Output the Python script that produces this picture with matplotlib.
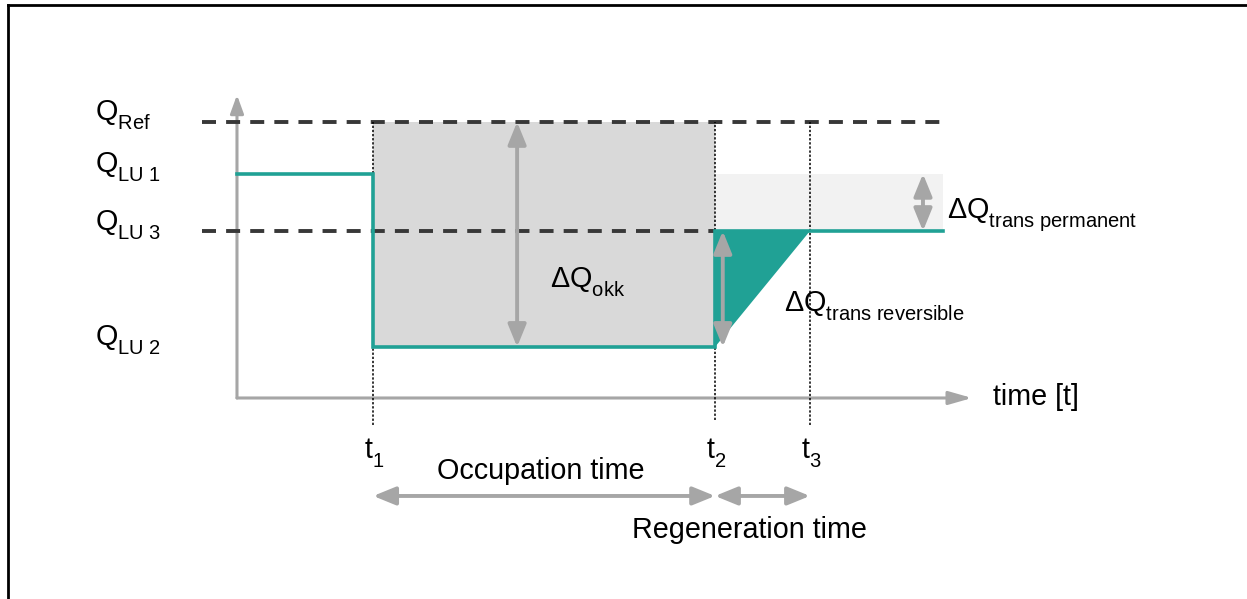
import matplotlib
matplotlib.use("Agg")
import matplotlib.pyplot as plt
try:
    import matplotlib._mathtext as _mt
    _mt.FontConstantsBase.sub1 = 0.6
    _mt.FontConstantsBase.sub2 = 0.75
except Exception:
    pass

plt.rcParams['font.family'] = ['Liberation Sans', 'DejaVu Sans']
plt.rcParams['mathtext.fontset'] = 'custom'
plt.rcParams['mathtext.rm'] = 'Liberation Sans'
plt.rcParams['mathtext.it'] = 'Liberation Sans'

# ---- data (conceptual units) ----
time_points = [3.0, 10.53, 12.62]          # t1, t2, t3
time_labels = [r'$\mathregular{t_1}$', r'$\mathregular{t_2}$', r'$\mathregular{t_3}$']
q_levels = {'Ref': 10.0, 'LU1': 8.12, 'LU3': 6.05, 'LU2': 1.85}
q_labels = [r'$\mathregular{Q_{Ref}}$', r'$\mathregular{Q_{LU\ 1}}$',
            r'$\mathregular{Q_{LU\ 3}}$', r'$\mathregular{Q_{LU\ 2}}$']
q_order = ['Ref', 'LU1', 'LU3', 'LU2']
t_end = 15.55
period_labels = ['Occupation time', 'Regeneration time']

TEAL = '#20a195'
GRAY = '#a6a6a6'
DARK = '#383838'

t1, t2, t3 = time_points
qref, qlu1, qlu3, qlu2 = (q_levels[k] for k in q_order)

fig = plt.figure(figsize=(12.47, 5.99), dpi=100)
ax = fig.add_axes([0, 0, 1, 1])
ax.set_xlim(-5.22, 22.247)
ax.set_ylim(-7.283, 14.42)
ax.axis('off')

# frame
ax.plot([8 / 1247, 8 / 1247], [0, 1 - 5 / 599], color='black', lw=2, transform=ax.transAxes, clip_on=False)
ax.plot([8 / 1247, 1], [1 - 5 / 599, 1 - 5 / 599], color='black', lw=2, transform=ax.transAxes, clip_on=False)

# shaded areas
ax.fill_between([t1, t2], qlu2, qref, color='#d9d9d9', lw=0, zorder=1)
ax.fill_between([t2, t_end], qlu3, qlu1, color='#f2f2f2', lw=0, zorder=1)
ax.fill([t2, t3, t2], [qlu3, qlu3, qlu2], color=TEAL, lw=0, zorder=2)

# axes arrows
ax.annotate('', xy=(0, 10.98), xytext=(0, 0),
            arrowprops=dict(arrowstyle='-|>,head_length=1.1,head_width=0.4', mutation_scale=10,
                            color=GRAY, lw=2.2, shrinkA=0, shrinkB=0), zorder=3)
ax.annotate('', xy=(16.19, 0), xytext=(0, 0),
            arrowprops=dict(arrowstyle='-|>,head_length=1.4,head_width=0.4', mutation_scale=10,
                            color=GRAY, lw=2.2, shrinkA=0, shrinkB=0), zorder=3)

# dashed reference lines
ax.plot([-0.77, 15.59], [qref, qref], color=DARK, lw=2.8, dashes=(3.6, 2.6), zorder=4)
ax.plot([-0.77, t2], [qlu3, qlu3], color=DARK, lw=2.8, dashes=(3.6, 2.6), zorder=4)

# dotted time markers
for t, yb in zip(time_points, [-0.98, -0.80, -0.98]):
    ax.plot([t, t], [yb, qref], color='black', lw=1.1, ls=(0, (1.5, 1.2)), zorder=5)

# teal land-use quality line
ax.plot([0, t1, t1, t2, t2, t_end], [qlu1, qlu1, qlu2, qlu2, qlu3, qlu3],
        color=TEAL, lw=2.6, solid_joinstyle='miter', zorder=6)

# double arrows
dbl = dict(arrowstyle='<|-|>,head_length=1.35,head_width=0.55', mutation_scale=10,
           color=GRAY, lw=2.8, shrinkA=0, shrinkB=0)
ax.annotate('', xy=(6.17, qref), xytext=(6.17, qlu2), arrowprops=dbl, zorder=7)
ax.annotate('', xy=(15.11, qlu1), xytext=(15.11, qlu3), arrowprops=dbl, zorder=7)
ax.annotate('', xy=(10.70, qlu3), xytext=(10.70, qlu2), arrowprops=dbl, zorder=7)
ax.annotate('', xy=(t2, -3.55), xytext=(t1, -3.55), arrowprops=dbl, zorder=7)
ax.annotate('', xy=(t3, -3.55), xytext=(t2, -3.55), arrowprops=dbl, zorder=7)

FS = 20.7
# Q labels
for lab, key in zip(q_labels, q_order):
    ax.text(-3.13, q_levels[key] + 0.04, lab, fontsize=FS, ha='left', va='baseline', zorder=8)

# time labels
for t, lab in zip(time_points, time_labels):
    ax.text(t + 0.03, -2.2, lab, fontsize=FS, ha='center', va='baseline', zorder=8)

ax.text((t1 + t2) / 2 - 0.07, -2.93, period_labels[0], fontsize=FS, ha='center', va='baseline')
ax.text(11.28, -5.07, period_labels[1], fontsize=FS, ha='center', va='baseline')

ax.text(16.65, -0.25, 'time [t]', fontsize=FS, ha='left', va='baseline')
ax.text(6.89, 4.02, r'$\mathregular{ΔQ_{okk}}$', fontsize=FS, ha='left', va='baseline', zorder=8)
ax.text(15.64, 6.52, r'$\mathregular{ΔQ_{trans\ permanent}}$', fontsize=FS, ha='left', va='baseline', zorder=8)
ax.text(12.05, 3.12, r'$\mathregular{ΔQ_{trans\ reversible}}$', fontsize=FS, ha='left', va='baseline', zorder=8)

fig.savefig('out.png', dpi=100)
